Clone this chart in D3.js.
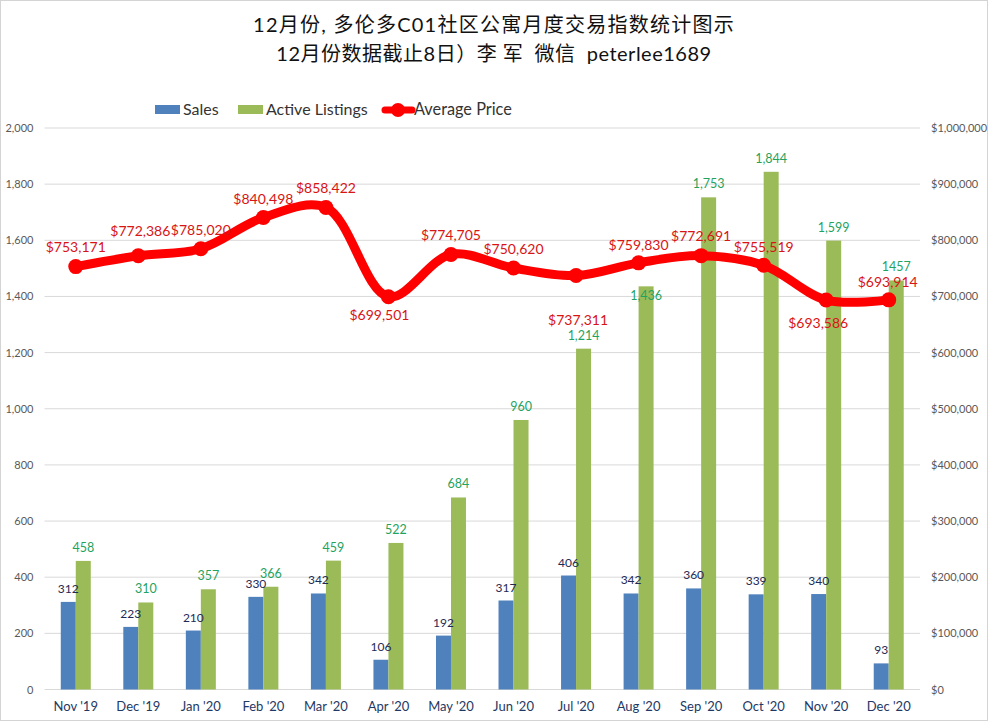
<!DOCTYPE html>
<html>
<head>
<meta charset="utf-8">
<script src="https://cdn.jsdelivr.net/npm/d3@7"></script>
<style>
  body { margin: 0; background: #fff; }
  text { font-family: Lato, "Noto Sans CJK SC", sans-serif; }
</style>
</head>
<body>
<div id="chart"></div>
<script>
// data
var months = ["Nov '19", "Dec '19", "Jan '20", "Feb '20", "Mar '20", "Apr '20", "May '20", "Jun '20", "Jul '20", "Aug '20", "Sep '20", "Oct '20", "Nov '20", "Dec '20"];
var sales = [312, 223, 210, 330, 342, 106, 192, 317, 406, 342, 360, 339, 340, 93];
var listings = [458, 310, 357, 366, 459, 522, 684, 960, 1214, 1436, 1753, 1844, 1599, 1457];
var prices = [753171, 772386, 785020, 840498, 858422, 699501, 774705, 750620, 737311, 759830, 772691, 755519, 693586, 693914];
var listingText = ["458", "310", "357", "366", "459", "522", "684", "960", "1,214", "1,436", "1,753", "1,844", "1,599", "1457"];
var countTicks = [0, 200, 400, 600, 800, 1000, 1200, 1400, 1600, 1800, 2000];
var priceTicks = [0, 100000, 200000, 300000, 400000, 500000, 600000, 700000, 800000, 900000, 1000000];

// hand nudges for the price labels, the chart had them moved by hand
var priceDx = [0, 2, 0, 0, 0, -9, 0, 0, 2, 0, 0, 0, -8, -1];
var priceDy = [-20, -25, -19, -19, -19, 18, -20, -19, 45, -18, -20, -18, 23, -18];

var svgWidth = 988;
var svgHeight = 721;
var margin = { top: 128, right: 68, bottom: 31.5, left: 44.5 };
var width = svgWidth - margin.left - margin.right;
var height = svgHeight - margin.top - margin.bottom;

var svg = d3.select("#chart")
  .append("svg")
  .attr("width", svgWidth)
  .attr("height", svgHeight)
  .style("display", "block");

// outer frame
svg.append("rect")
  .attr("x", 0.5).attr("y", 0.5)
  .attr("width", svgWidth - 1).attr("height", svgHeight - 1)
  .attr("fill", "none").attr("stroke", "#d4d4d4");

// title
var titleLines = ["12月份, 多伦多C01社区公寓月度交易指数统计图示", "12月份数据截止8日）李 军  微信  peterlee1689"];
var titleSpacing = ["1.25px", "0.5px"];
svg.selectAll(".title")
  .data(titleLines)
  .enter()
  .append("text")
  .attr("class", "title")
  .attr("x", 494)
  .attr("y", (d, i) => 32 + i * 29)
  .attr("text-anchor", "middle")
  .style("font-size", "20px")
  .style("letter-spacing", (d, i) => titleSpacing[i])
  .style("fill", "#111")
  .style("white-space", "pre")
  .text(d => d);

var chartGroup = svg.append("g")
  .attr("transform", `translate(${margin.left}, ${margin.top})`);

// scales
var x0 = d3.scaleBand().domain(months).range([0, width]);
var xBar = d3.scaleBand().domain(["sales", "listings"]).range([0, 30]);
var yCount = d3.scaleLinear().domain([0, 2000]).range([height, 0]);
var yPrice = d3.scaleLinear().domain([0, 1000000]).range([height, 0]);
var barStart = (x0.bandwidth() - 30) / 2;

// grid
chartGroup.selectAll(".grid")
  .data(countTicks)
  .enter()
  .append("line")
  .attr("x1", 0).attr("x2", width)
  .attr("y1", d => yCount(d)).attr("y2", d => yCount(d))
  .attr("stroke", "#d9d9d9");

// axes
var leftAxis = d3.axisLeft(yCount).tickValues(countTicks).tickSize(0).tickPadding(11).tickFormat(d3.format(","));
var rightAxis = d3.axisRight(yPrice).tickValues(priceTicks).tickSize(0).tickPadding(11).tickFormat(d3.format("$,"));
var bottomAxis = d3.axisBottom(x0).tickSize(0).tickPadding(12);

var leftG = chartGroup.append("g").call(leftAxis);
var rightG = chartGroup.append("g").attr("transform", `translate(${width}, 0)`).call(rightAxis);
var bottomG = chartGroup.append("g").attr("transform", `translate(0, ${height})`).call(bottomAxis);

[leftG, rightG, bottomG].forEach(g => g.select(".domain").remove());
[leftG, rightG].forEach(g => g.selectAll("text")
  .style("font-family", "Lato").style("font-size", "11px").style("fill", "#595959"));
bottomG.selectAll("text")
  .style("font-family", "Lato").style("font-size", "13px").style("fill", "#1f3864");

// bars
chartGroup.selectAll(".sales")
  .data(sales)
  .enter()
  .append("rect")
  .attr("x", (d, i) => x0(months[i]) + barStart + xBar("sales"))
  .attr("y", d => yCount(d))
  .attr("width", xBar.bandwidth())
  .attr("height", d => height - yCount(d))
  .attr("fill", "#4f81bd");

chartGroup.selectAll(".listings")
  .data(listings)
  .enter()
  .append("rect")
  .attr("x", (d, i) => x0(months[i]) + barStart + xBar("listings"))
  .attr("y", d => yCount(d))
  .attr("width", xBar.bandwidth())
  .attr("height", d => height - yCount(d))
  .attr("fill", "#9bbb59");

// bar labels
chartGroup.selectAll(".salesLabel")
  .data(sales)
  .enter()
  .append("text")
  .attr("x", (d, i) => x0(months[i]) + barStart + xBar("sales") + xBar.bandwidth() / 2)
  .attr("y", d => yCount(d) - 9)
  .attr("text-anchor", "middle")
  .style("font-size", "12px")
  .style("fill", "#1f2a55")
  .text(d => d);

chartGroup.selectAll(".listingLabel")
  .data(listings)
  .enter()
  .append("text")
  .attr("x", (d, i) => x0(months[i]) + barStart + xBar("listings") + xBar.bandwidth() / 2)
  .attr("y", (d, i) => yCount(d) - 9 + (i == 9 ? 23 : 0))
  .attr("text-anchor", "middle")
  .style("font-size", "12.5px")
  .style("fill", "#1fa35f")
  .text((d, i) => listingText[i]);

// price line
var priceLine = d3.line()
  .x((d, i) => x0(months[i]) + x0.bandwidth() / 2)
  .y(d => yPrice(d))
  .curve(d3.curveCatmullRom.alpha(0.5));

chartGroup.append("path")
  .attr("d", priceLine(prices))
  .attr("fill", "none")
  .attr("stroke", "#ff0000")
  .attr("stroke-width", 9)
  .attr("stroke-linecap", "round");

chartGroup.selectAll(".priceDot")
  .data(prices)
  .enter()
  .append("circle")
  .attr("cx", (d, i) => x0(months[i]) + x0.bandwidth() / 2)
  .attr("cy", d => yPrice(d))
  .attr("r", 7.5)
  .attr("fill", "#ff0000");

chartGroup.selectAll(".priceLabel")
  .data(prices)
  .enter()
  .append("text")
  .attr("x", (d, i) => x0(months[i]) + x0.bandwidth() / 2 + priceDx[i])
  .attr("y", (d, i) => yPrice(d) + priceDy[i] + 5)
  .attr("text-anchor", "middle")
  .style("font-size", "14px")
  .style("fill", "#d81414")
  .text(d => d3.format("$,")(d));

// legend
var legend = svg.append("g");
legend.append("rect").attr("x", 155).attr("y", 105).attr("width", 25).attr("height", 9).attr("fill", "#4f81bd");
legend.append("text").attr("x", 183).attr("y", 115).style("font-size", "16px").style("fill", "#333").text("Sales");
legend.append("rect").attr("x", 238).attr("y", 105).attr("width", 25).attr("height", 9).attr("fill", "#9bbb59");
legend.append("text").attr("x", 266).attr("y", 115).style("font-size", "16px").style("fill", "#333").text("Active Listings");
legend.append("line").attr("x1", 385).attr("x2", 412).attr("y1", 110).attr("y2", 110)
  .attr("stroke", "#ff0000").attr("stroke-width", 7).attr("stroke-linecap", "round");
legend.append("circle").attr("cx", 398).attr("cy", 110).attr("r", 7).attr("fill", "#ff0000");
legend.append("text").attr("x", 414).attr("y", 115).style("font-size", "16.3px").style("fill", "#333").text("Average Price");
</script>
</body>
</html>
